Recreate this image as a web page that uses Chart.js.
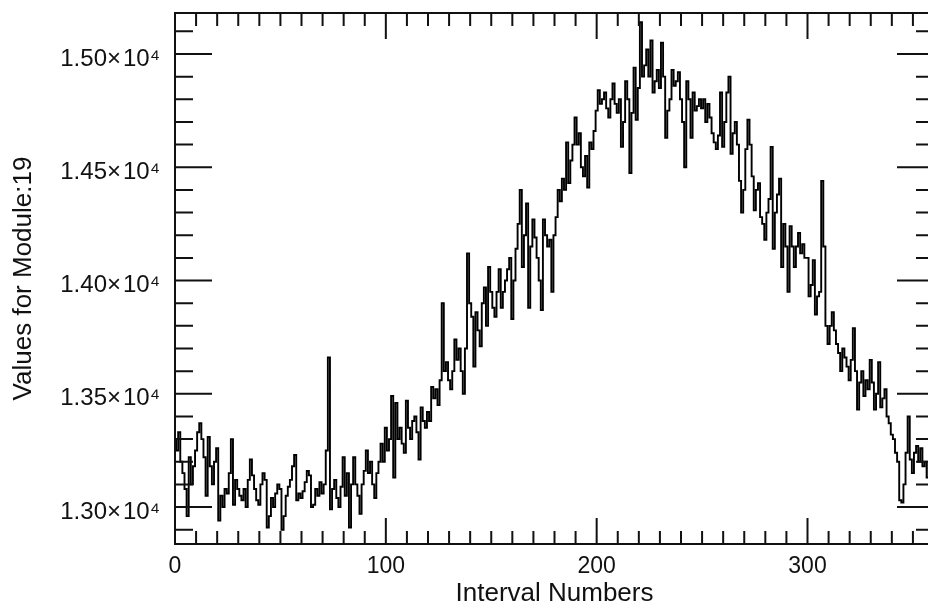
<!DOCTYPE html>
<html>
<head>
<meta charset="utf-8">
<script src="https://cdn.jsdelivr.net/npm/chart.js@4.4.1/dist/chart.umd.min.js"></script>
<style>
  html, body { margin: 0; padding: 0; background: #fff; overflow: hidden; }
  #wrap { position: absolute; left: 0; top: 0; width: 940px; height: 607px; }
</style>
</head>
<body>
<div id="wrap"><canvas id="c" width="940" height="607"></canvas></div>
<script>
// Values for Module:19, one per interval number
const moduleValues = [
  13300, 13250, 13330, 13200, 13150, 13080, 12960, 13220, 13100, 13180,
  13250, 13330, 13370, 13300, 13220, 13050, 13310, 13180, 13100, 13200,
  13260, 12940, 13050, 13000, 13080, 13060, 13150, 13300, 13010, 13120,
  13080, 13050, 13030, 13080, 13000, 13120, 13210, 13140, 13080, 13030,
  13010, 13100, 13150, 13120, 12910, 12960, 13040, 13000, 13060, 13100,
  13080, 12900, 12960, 13050, 13090, 13120, 13180, 13230, 13030, 13060,
  13040, 13070, 13110, 13160, 13140, 13000, 13010, 13080, 13050, 13110,
  13060, 13100, 13250, 13660, 12990, 13080, 13120, 13040, 13000, 13090,
  13220, 13050, 13150, 12910, 13100, 13220, 13100, 13050, 12970, 13100,
  13160, 13250, 13150, 13200, 13100, 13040, 13150, 13200, 13280, 13200,
  13350, 13250, 13300, 13490, 13130, 13460, 13300, 13350, 13280, 13240,
  13470, 13350, 13300, 13380, 13400, 13330, 13210, 13440, 13380, 13350,
  13420, 13380, 13530, 13480, 13520, 13450, 13560, 13900, 13600, 13640,
  13560, 13520, 13600, 13740, 13650, 13700, 13600, 13500, 13700, 14120,
  13900, 13840, 13620, 13860, 13780, 13710, 13900, 13970, 13800, 14060,
  13950, 13880, 13840, 13950, 14050, 13880, 13950, 14000, 14050, 14100,
  13830, 14000, 14140, 14250, 14400, 14060, 14200, 14340, 13880, 14150,
  14270, 14190, 14100, 14000, 13870, 14270, 14200, 14150, 14180, 13950,
  14200, 14280, 14400, 14350, 14450, 14400, 14610, 14430, 14530, 14600,
  14720, 14600, 14650, 14500, 14460, 14550, 14410, 14610, 14580, 14660,
  14750, 14840, 14780, 14800, 14830, 14760, 14720, 14800, 14870, 14780,
  14740, 14800, 14590, 14700, 14880, 14800, 14475, 14740, 14940, 14710,
  14850, 15140, 14900, 14950, 15020, 14900, 15060, 14830, 14880, 14930,
  14850, 15050, 14900, 14630, 14750, 14800, 14930, 14860, 14880, 14920,
  14800, 14700, 14500, 14880, 14800, 14630, 14830, 14750, 14770, 14800,
  14760, 14800, 14700, 14780, 14720, 14650, 14610, 14580, 14640, 14830,
  14590, 14700, 14830, 14900, 14560, 14650, 14700, 14600, 14440, 14300,
  14400, 14580, 14710, 14600, 14460, 14310, 14400, 14430, 14280, 14250,
  14180, 14300, 14360, 14590, 14140, 14300, 14380, 14450, 14060, 14250,
  14150, 13950, 14240, 14150, 14060, 14150, 14210, 14120, 14160, 14100,
  14100, 13930, 13980, 14090, 13850, 13930, 13950, 14440, 14150, 13800,
  13720, 13800, 13860, 13780, 13720, 13680, 13600, 13700, 13660, 13620,
  13560, 13650, 13790, 13600, 13430, 13550, 13600, 13490, 13560, 13520,
  13650, 13550, 13430, 13500, 13640, 13440, 13480, 13520, 13400, 13370,
  13320, 13300, 13240, 13200, 13030, 13020, 13100, 13240, 13400, 13210,
  13150, 13240, 13270, 13200, 13260, 13180, 13200, 13130, 13200
];
const intervalNumbers = moduleValues.map((_, i) => i);

const xTicks = [0, 100, 200, 300];
const xTickLabels = ['0', '100', '200', '300'];
const yTicks = [13000, 13500, 14000, 14500, 15000];
const yTickLabels = ['1.30×\u200A10⁴', '1.35×\u200A10⁴', '1.40×\u200A10⁴', '1.45×\u200A10⁴', '1.50×\u200A10⁴'];

const xTitle = 'Interval Numbers';
const yTitle = 'Values for Module:19';

const FONT = "'Liberation Sans', Arial, Helvetica, sans-serif";

const frameTicks = {
  id: 'frameTicks',
  afterDatasetsDraw(chart) {
    const { ctx, chartArea: a, scales: { x, y } } = chart;
    ctx.save();
    ctx.strokeStyle = '#111';
    ctx.lineWidth = 2;
    ctx.strokeRect(a.left, a.top, a.right - a.left, a.bottom - a.top);
    ctx.beginPath();
    for (let v = x.min; v <= x.max; v += 10) {
      const px = x.getPixelForValue(v);
      const len = xTicks.includes(v) ? 26 : 13;
      ctx.moveTo(px, a.bottom); ctx.lineTo(px, a.bottom - len);
      ctx.moveTo(px, a.top); ctx.lineTo(px, a.top + len);
    }
    for (let v = 12900; v <= 15100; v += 100) {
      const py = y.getPixelForValue(v);
      const len = yTicks.includes(v) ? 37 : 18;
      ctx.moveTo(a.left, py); ctx.lineTo(a.left + len, py);
      ctx.moveTo(a.right, py); ctx.lineTo(a.right - len, py);
    }
    ctx.stroke();
    ctx.restore();
  }
};

function noPad(s) {
  s.paddingTop = 0; s.paddingBottom = 0; s.paddingLeft = 0; s.paddingRight = 0;
}

new Chart(document.getElementById('c'), {
  type: 'line',
  data: {
    datasets: [{
      data: intervalNumbers.map((n, i) => ({ x: n, y: moduleValues[i] })),
      borderColor: '#000',
      borderWidth: 1.9,
      pointRadius: 0,
      stepped: 'middle',
      fill: false
    }]
  },
  options: {
    responsive: false,
    animation: false,
    events: [],
    layout: { padding: { top: 13, right: 6, left: 0, bottom: 0 } },
    plugins: { legend: { display: false }, tooltip: { enabled: false } },
    scales: {
      x: {
        type: 'linear',
        min: 0,
        max: 360,
        afterFit(s) { s.height = 63; noPad(s); },
        afterBuildTicks(s) { s.ticks = xTicks.map(v => ({ value: v })); },
        grid: { display: false, drawTicks: false },
        border: { display: false },
        ticks: {
          autoSkip: false, maxRotation: 0, padding: 9, color: '#111',
          font: { family: FONT, size: 23 },
          callback: (v) => xTickLabels[xTicks.indexOf(v)] ?? ''
        },
        title: {
          display: true, text: xTitle, color: '#111',
          font: { family: FONT, size: 26, lineHeight: 1 },
          padding: { top: 0, bottom: 0 }
        }
      },
      y: {
        type: 'linear',
        min: 12837,
        max: 15181,
        afterFit(s) { s.width = 175; noPad(s); },
        afterBuildTicks(s) { s.ticks = yTicks.map(v => ({ value: v })); },
        grid: { display: false, drawTicks: false },
        border: { display: false },
        ticks: {
          autoSkip: false, padding: 15, labelOffset: 5, color: '#111',
          font: { family: FONT, size: 24 },
          callback: (v) => yTickLabels[yTicks.indexOf(v)] ?? ''
        },
        title: {
          display: true, text: yTitle, color: '#111',
          font: { family: FONT, size: 26, lineHeight: 1 },
          padding: { top: 11, bottom: 0 }
        }
      }
    }
  },
  plugins: [frameTicks]
});
</script>
</body>
</html>
